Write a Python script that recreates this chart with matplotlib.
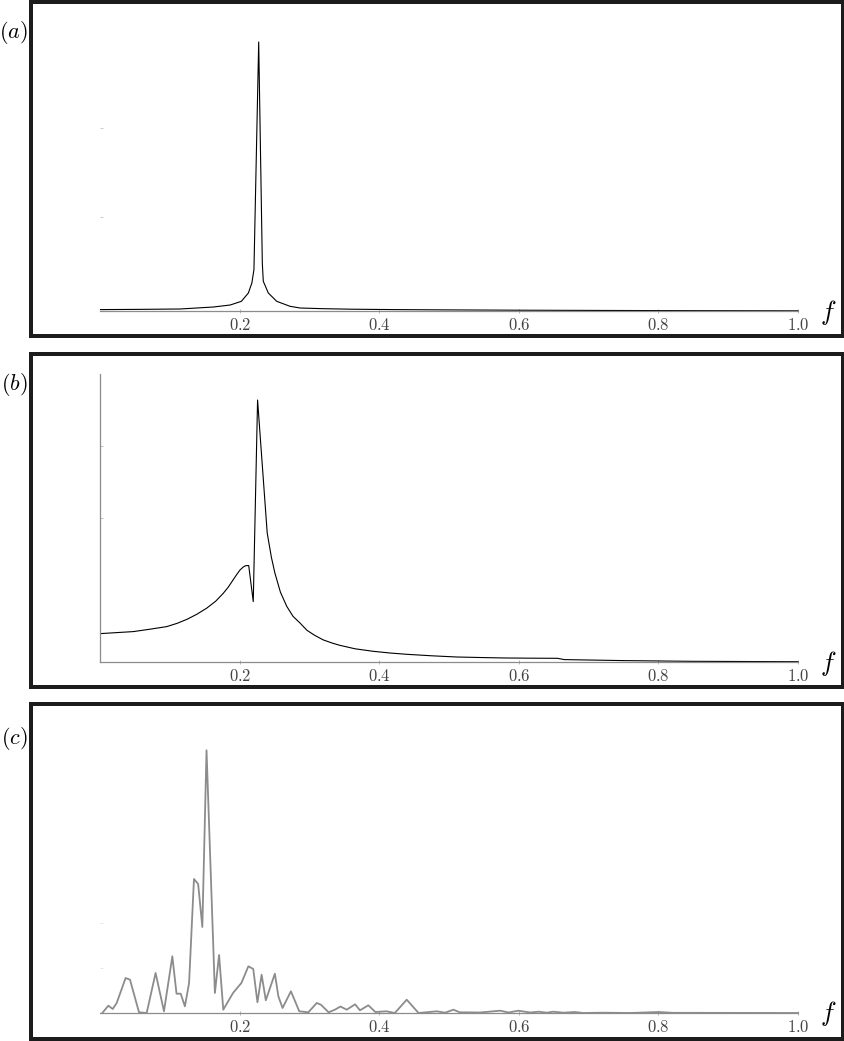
import matplotlib
matplotlib.use("Agg")
import matplotlib.pyplot as plt
from matplotlib.patches import Rectangle

plt.rcParams['mathtext.fontset'] = 'cm'

# ---------------- data ----------------
f_a = [0.0, 0.05, 0.114, 0.162, 0.186, 0.202, 0.212, 0.217, 0.220, 0.2268,
       0.232, 0.2334, 0.2406, 0.2526, 0.2717, 0.286, 0.32, 0.36, 0.42, 0.5,
       0.6, 0.7, 0.8, 0.9, 1.0]
amp_a = [1.7, 1.9, 2.3, 4.3, 6.3, 10.0, 18.3, 28.3, 41.7, 269.3,
         48.0, 30.0, 18.3, 10.0, 5.0, 3.3, 2.6, 2.1, 1.7, 1.4,
         1.1, 0.9, 0.7, 0.6, 0.5]

f_b = [0.0, 0.047, 0.07, 0.095, 0.11, 0.124, 0.138, 0.152, 0.165, 0.176,
       0.183, 0.190, 0.195, 0.200, 0.205, 0.2086, 0.2125, 0.219, 0.2252, 0.239,
       0.245, 0.250, 0.258, 0.267, 0.276, 0.286, 0.296, 0.307, 0.319, 0.331,
       0.343, 0.365, 0.391, 0.415, 0.439, 0.475, 0.511, 0.55, 0.582, 0.62,
       0.655, 0.665, 0.75, 0.845, 0.955, 1.0]
amp_b = [28.7, 30.7, 33.0, 35.7, 39.0, 43.0, 48.0, 54.0, 61.0, 69.0,
         75.0, 82.3, 87.5, 92.3, 95.5, 96.7, 96.7, 60.7, 262.3, 129.3,
         105.0, 89.3, 70.0, 56.0, 46.0, 39.3, 32.0, 27.0, 22.5, 19.5,
         17.0, 13.5, 11.0, 9.3, 8.0, 6.5, 5.3, 4.7, 4.3, 4.1,
         4.0, 2.7, 1.7, 1.0, 0.7, 0.6]

f_c = [0.0026, 0.0112, 0.0175, 0.0232, 0.036, 0.0423, 0.0552, 0.0662, 0.079, 0.091,
       0.103, 0.109, 0.115, 0.121, 0.127, 0.134, 0.140, 0.146, 0.152, 0.164,
       0.170, 0.176, 0.190, 0.202, 0.212, 0.219, 0.225, 0.231, 0.237, 0.250,
       0.255, 0.261, 0.273, 0.285, 0.298, 0.310, 0.316, 0.327, 0.336, 0.344,
       0.353, 0.365, 0.372, 0.384, 0.394, 0.410, 0.422, 0.439, 0.456, 0.482,
       0.494, 0.506, 0.515, 0.544, 0.573, 0.585, 0.599, 0.616, 0.628, 0.640,
       0.649, 0.664, 0.680, 0.692, 0.72, 0.76, 0.80, 0.82, 0.90, 1.0]
amp_c = [0.0, 7.3, 4.0, 10.0, 35.0, 33.3, 0.7, 0.0, 40.0, 1.7,
         56.7, 19.3, 19.3, 6.7, 30.0, 134.0, 129.0, 86.0, 262.7, 20.0,
         58.0, 3.3, 20.0, 30.0, 46.7, 44.0, 10.7, 38.3, 12.7, 39.3,
         16.7, 5.0, 21.7, 1.7, 0.7, 10.0, 8.3, 0.7, 3.3, 6.5,
         3.3, 8.7, 2.7, 7.7, 1.0, 1.7, 0.0, 13.3, 0.0, 1.7,
         0.3, 3.3, 0.7, 0.5, 2.3, 0.5, 2.3, 0.5, 1.3, 0.3,
         1.3, 0.3, 1.0, 0.0, 0.3, 0.0, 1.0, 0.2, 0.1, 0.0]

xtick_values = [0.2, 0.4, 0.6, 0.8, 1.0]
xtick_labels = ['0.2', '0.4', '0.6', '0.8', '1.0']
panel_labels = ['(a)', '(b)', '(c)']
ytick_a = [94.0, 183.0]
ytick_b = [144.0, 216.0]
ytick_c = [45.0, 90.0]

# ---------------- layout ----------------
W, H = 845, 1041
fig = plt.figure(figsize=(W / 100, H / 100), dpi=100)


def fx(x):
    return x / W


def fy(y):
    return 1 - y / H


AX_L, AX_R = 100.5, 798.0
panels = [
    dict(f=f_a, amp=amp_a, bottom=311.3, ytop=272.0, color='black', lw=0.8,
         left_spine=False, yt=ytick_a, ytc='#b8b8b8', frame=(2, 336), label_y=33),
    dict(f=f_b, amp=amp_b, bottom=662.3, ytop=288.0, color='black', lw=0.8,
         left_spine=True, yt=ytick_b, ytc='#a0a0a0', frame=(354, 687), label_y=384),
    dict(f=f_c, amp=amp_c, bottom=1013.0, ytop=268.0, color='#8c8c8c', lw=1.3,
         left_spine=False, yt=ytick_c, ytc='#dcdcdc', frame=(704, 1039), label_y=738),
]

frame_lw = 4 * 72 / 100
for i, p in enumerate(panels):
    t, b = p['frame']
    fig.add_artist(Rectangle((fx(31), fy(b)), fx(843) - fx(31), fy(t) - fy(b),
                             transform=fig.transFigure, fill=False,
                             edgecolor='#1c1c1c', linewidth=frame_lw, zorder=0))
    ax = fig.add_axes([fx(AX_L), fy(p['bottom']), (AX_R - AX_L) / W, p['ytop'] / H])
    ax.patch.set_alpha(0)
    ax.plot(p['f'], p['amp'], color=p['color'], lw=p['lw'], clip_on=False)
    ax.set_xlim(0, 1.0)
    ax.set_ylim(0, p['ytop'])
    for s in ['top', 'right']:
        ax.spines[s].set_visible(False)
    ax.spines['left'].set_visible(p['left_spine'])
    ax.spines['bottom'].set_color('#8c8c8c')
    ax.spines['bottom'].set_linewidth(0.9)
    ax.spines['left'].set_color('#8c8c8c')
    ax.spines['left'].set_linewidth(0.9)
    ax.set_xticks(xtick_values)
    ax.set_xticklabels(['$' + s + '$' for s in xtick_labels])
    ax.tick_params(axis='x', direction='inout', length=3, width=0.5,
                   colors='#9a9a9a', labelcolor='#444444', labelsize=12, pad=2)
    ax.set_yticks(p['yt'])
    ax.set_yticklabels([])
    ax.tick_params(axis='y', direction='in', length=2, width=0.5,
                   colors=p['ytc'])
    fig.text(fx(828), fy(p['bottom'] + 1), r'$f$', fontsize=19,
             ha='center', va='center', color='black')
    fig.text(fx(28), fy(p['label_y']), '$' + panel_labels[i] + '$', fontsize=16,
             ha='right', va='center', color='black')

fig.savefig('out.png', dpi=100)
